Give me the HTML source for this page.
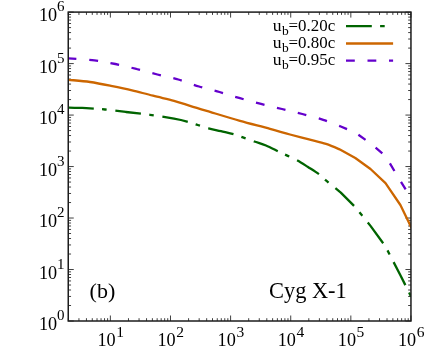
<!DOCTYPE html>
<html><head><meta charset="utf-8"><title>plot</title>
<style>
html,body{margin:0;padding:0;background:#fff;}
body{width:434px;height:347px;overflow:hidden;}
svg{display:block;}
text{font-family:"Liberation Serif",serif;fill:#000;}
</style></head><body>
<svg width="434" height="347" viewBox="0 0 434 347">
<rect x="0" y="0" width="434" height="347" fill="#ffffff"/>
<path d="M68.35 321.00v-2.80M68.35 12.10v2.80M78.94 321.00v-2.80M78.94 12.10v2.80M86.45 321.00v-2.80M86.45 12.10v2.80M92.27 321.00v-2.80M92.27 12.10v2.80M97.03 321.00v-2.80M97.03 12.10v2.80M101.06 321.00v-2.80M101.06 12.10v2.80M104.54 321.00v-2.80M104.54 12.10v2.80M107.62 321.00v-2.80M107.62 12.10v2.80M110.37 321.00v-5.50M110.37 12.10v5.50M128.47 321.00v-2.80M128.47 12.10v2.80M139.05 321.00v-2.80M139.05 12.10v2.80M146.56 321.00v-2.80M146.56 12.10v2.80M152.39 321.00v-2.80M152.39 12.10v2.80M157.15 321.00v-2.80M157.15 12.10v2.80M161.17 321.00v-2.80M161.17 12.10v2.80M164.66 321.00v-2.80M164.66 12.10v2.80M167.74 321.00v-2.80M167.74 12.10v2.80M170.49 321.00v-5.50M170.49 12.10v5.50M188.58 321.00v-2.80M188.58 12.10v2.80M199.17 321.00v-2.80M199.17 12.10v2.80M206.68 321.00v-2.80M206.68 12.10v2.80M212.51 321.00v-2.80M212.51 12.10v2.80M217.27 321.00v-2.80M217.27 12.10v2.80M221.29 321.00v-2.80M221.29 12.10v2.80M224.78 321.00v-2.80M224.78 12.10v2.80M227.85 321.00v-2.80M227.85 12.10v2.80M230.60 321.00v-5.50M230.60 12.10v5.50M248.70 321.00v-2.80M248.70 12.10v2.80M259.28 321.00v-2.80M259.28 12.10v2.80M266.80 321.00v-2.80M266.80 12.10v2.80M272.62 321.00v-2.80M272.62 12.10v2.80M277.38 321.00v-2.80M277.38 12.10v2.80M281.41 321.00v-2.80M281.41 12.10v2.80M284.89 321.00v-2.80M284.89 12.10v2.80M287.97 321.00v-2.80M287.97 12.10v2.80M290.72 321.00v-5.50M290.72 12.10v5.50M308.81 321.00v-2.80M308.81 12.10v2.80M319.40 321.00v-2.80M319.40 12.10v2.80M326.91 321.00v-2.80M326.91 12.10v2.80M332.74 321.00v-2.80M332.74 12.10v2.80M337.50 321.00v-2.80M337.50 12.10v2.80M341.52 321.00v-2.80M341.52 12.10v2.80M345.01 321.00v-2.80M345.01 12.10v2.80M348.08 321.00v-2.80M348.08 12.10v2.80M350.83 321.00v-5.50M350.83 12.10v5.50M368.93 321.00v-2.80M368.93 12.10v2.80M379.52 321.00v-2.80M379.52 12.10v2.80M387.03 321.00v-2.80M387.03 12.10v2.80M392.85 321.00v-2.80M392.85 12.10v2.80M397.61 321.00v-2.80M397.61 12.10v2.80M401.64 321.00v-2.80M401.64 12.10v2.80M405.12 321.00v-2.80M405.12 12.10v2.80M408.20 321.00v-2.80M408.20 12.10v2.80M410.95 321.00v-5.50M410.95 12.10v5.50M68.25 321.00h5.50M410.95 321.00h-5.50M68.25 305.50h2.80M410.95 305.50h-2.80M68.25 296.44h2.80M410.95 296.44h-2.80M68.25 290.00h2.80M410.95 290.00h-2.80M68.25 285.01h2.80M410.95 285.01h-2.80M68.25 280.94h2.80M410.95 280.94h-2.80M68.25 277.49h2.80M410.95 277.49h-2.80M68.25 274.51h2.80M410.95 274.51h-2.80M68.25 271.87h2.80M410.95 271.87h-2.80M68.25 269.52h5.50M410.95 269.52h-5.50M68.25 254.02h2.80M410.95 254.02h-2.80M68.25 244.95h2.80M410.95 244.95h-2.80M68.25 238.52h2.80M410.95 238.52h-2.80M68.25 233.53h2.80M410.95 233.53h-2.80M68.25 229.45h2.80M410.95 229.45h-2.80M68.25 226.01h2.80M410.95 226.01h-2.80M68.25 223.02h2.80M410.95 223.02h-2.80M68.25 220.39h2.80M410.95 220.39h-2.80M68.25 218.03h5.50M410.95 218.03h-5.50M68.25 202.54h2.80M410.95 202.54h-2.80M68.25 193.47h2.80M410.95 193.47h-2.80M68.25 187.04h2.80M410.95 187.04h-2.80M68.25 182.05h2.80M410.95 182.05h-2.80M68.25 177.97h2.80M410.95 177.97h-2.80M68.25 174.52h2.80M410.95 174.52h-2.80M68.25 171.54h2.80M410.95 171.54h-2.80M68.25 168.91h2.80M410.95 168.91h-2.80M68.25 166.55h5.50M410.95 166.55h-5.50M68.25 151.05h2.80M410.95 151.05h-2.80M68.25 141.99h2.80M410.95 141.99h-2.80M68.25 135.55h2.80M410.95 135.55h-2.80M68.25 130.56h2.80M410.95 130.56h-2.80M68.25 126.49h2.80M410.95 126.49h-2.80M68.25 123.04h2.80M410.95 123.04h-2.80M68.25 120.06h2.80M410.95 120.06h-2.80M68.25 117.42h2.80M410.95 117.42h-2.80M68.25 115.07h5.50M410.95 115.07h-5.50M68.25 99.57h2.80M410.95 99.57h-2.80M68.25 90.50h2.80M410.95 90.50h-2.80M68.25 84.07h2.80M410.95 84.07h-2.80M68.25 79.08h2.80M410.95 79.08h-2.80M68.25 75.00h2.80M410.95 75.00h-2.80M68.25 71.56h2.80M410.95 71.56h-2.80M68.25 68.57h2.80M410.95 68.57h-2.80M68.25 65.94h2.80M410.95 65.94h-2.80M68.25 63.58h5.50M410.95 63.58h-5.50M68.25 48.09h2.80M410.95 48.09h-2.80M68.25 39.02h2.80M410.95 39.02h-2.80M68.25 32.59h2.80M410.95 32.59h-2.80M68.25 27.60h2.80M410.95 27.60h-2.80M68.25 23.52h2.80M410.95 23.52h-2.80M68.25 20.07h2.80M410.95 20.07h-2.80M68.25 17.09h2.80M410.95 17.09h-2.80M68.25 14.46h2.80M410.95 14.46h-2.80M68.25 12.10h5.50M410.95 12.10h-5.50" stroke="#000" stroke-width="0.75" fill="none"/>
<clipPath id="c"><rect x="68.25" y="12.1" width="342.7" height="308.9"/></clipPath>
<g clip-path="url(#c)" fill="none" stroke-width="2.3" stroke-linejoin="round">
<path d="M54.0 107.6C55.0 107.6 57.5 107.6 60.0 107.6C62.5 107.6 65.7 107.7 69.0 107.7C72.3 107.8 76.5 107.8 80.0 107.9C83.5 108.0 85.8 108.0 90.0 108.3C94.2 108.6 99.0 108.9 105.0 109.5C111.0 110.1 118.5 111.1 126.0 112.0C133.5 112.9 142.0 113.7 150.0 114.8C158.0 115.9 167.8 117.6 174.0 118.7C180.2 119.8 183.1 120.5 187.0 121.6C190.9 122.6 194.1 123.9 197.7 125.0C201.3 126.1 204.6 127.3 208.5 128.3C212.4 129.3 216.8 130.2 221.0 131.2C225.2 132.2 230.1 133.2 234.0 134.3C237.9 135.4 240.8 136.7 244.2 137.9C247.6 139.1 250.7 140.2 254.3 141.5C257.9 142.8 261.9 143.8 266.0 145.5C270.1 147.2 275.4 150.1 279.0 151.8C282.6 153.5 284.7 154.5 287.8 155.9C290.9 157.3 294.1 158.7 297.5 160.5C300.9 162.3 304.4 164.7 308.0 167.0C311.6 169.3 316.0 172.0 319.0 174.2C322.0 176.4 322.4 177.3 326.0 180.4C329.6 183.5 338.3 190.6 340.8 192.6L355.6 207.5L370.5 225.9L385.5 246.5L400.4 275.2L415.3 305.0" stroke="#006400" stroke-dasharray="25.85 8.3 4.6 8.65" stroke-dashoffset="-14.1"/>
<path d="M54.0 78.8C55.0 78.9 57.6 79.0 60.0 79.2C62.4 79.4 63.5 79.3 68.5 79.8C73.5 80.3 82.9 81.0 90.0 82.0C97.1 83.0 104.0 84.4 111.0 85.8C118.0 87.2 125.0 88.6 132.0 90.3C139.0 92.0 146.0 94.0 153.0 95.7C160.0 97.5 167.8 99.1 174.0 100.8C180.2 102.5 184.0 103.9 190.0 105.8C196.0 107.7 201.7 109.4 210.0 111.9C218.3 114.4 230.0 118.0 240.0 120.8C250.0 123.6 261.7 126.5 270.0 128.8C278.3 131.1 283.7 132.8 290.0 134.5C296.3 136.2 302.0 137.6 308.0 139.2C314.0 140.8 320.6 142.2 326.0 143.9C331.4 145.7 338.0 148.7 340.4 149.7L355.3 158.0L370.5 169.0L385.5 183.2L400.4 205.0L415.3 235.6" stroke="#cc6600"/>
<path d="M54.0 57.7C55.0 57.7 57.6 57.8 60.0 57.9C62.4 58.0 62.8 57.9 68.5 58.3C74.2 58.7 86.7 59.4 94.5 60.4C102.3 61.4 108.4 62.6 115.4 64.0C122.4 65.4 129.4 67.2 136.4 69.0C143.4 70.8 150.4 72.8 157.4 74.5C164.4 76.2 171.4 77.5 178.3 79.5C185.2 81.5 192.1 84.4 199.0 86.5C205.9 88.6 212.7 90.0 219.5 92.0C226.3 94.0 233.1 96.2 240.0 98.2C246.9 100.2 254.0 102.1 261.0 103.9C268.0 105.7 275.1 107.3 282.0 109.0C288.9 110.7 295.4 112.2 302.3 114.0C309.2 115.8 316.8 117.7 323.2 119.8C329.6 121.9 337.9 125.4 340.8 126.5L355.6 132.8L370.5 143.4L385.5 156.1L400.4 181.0L415.3 204.8" stroke="#6400cc" stroke-dasharray="8.8 12.75" stroke-dashoffset="-13.7"/>
</g>
<rect x="68.25" y="12.1" width="342.7" height="308.9" fill="none" stroke="#1c1c1c" stroke-width="1.5"/>
<g fill="none" stroke-width="2.3">
<path d="M346 26.1H393.1" stroke="#006400" stroke-dasharray="25.8 8.3 4.6 8.6"/>
<path d="M346 43.5H393.1" stroke="#cc6600"/>
<path d="M346 60.6H393.1" stroke="#6400cc" stroke-dasharray="8.8 12.7"/>
</g>
<g style="filter:grayscale(1)">
<text x="272.7" y="30.9" font-size="17.6">u</text><text x="281.9" y="35.20" font-size="13.5">b</text><text x="335.2" y="30.9" font-size="16.9" text-anchor="end">=0.20c</text>
<text x="272.7" y="47.85" font-size="17.6">u</text><text x="281.9" y="52.15" font-size="13.5">b</text><text x="335.2" y="47.85" font-size="16.9" text-anchor="end">=0.80c</text>
<text x="272.7" y="64.8" font-size="17.6">u</text><text x="281.9" y="69.10" font-size="13.5">b</text><text x="335.2" y="64.8" font-size="16.9" text-anchor="end">=0.95c</text>
<text x="57.2" y="330.3" font-size="18.2" text-anchor="end">10</text><text x="56.9" y="320.3" font-size="15">0</text>
<text x="57.2" y="278.8" font-size="18.2" text-anchor="end">10</text><text x="56.9" y="268.8" font-size="15">1</text>
<text x="57.2" y="227.3" font-size="18.2" text-anchor="end">10</text><text x="56.9" y="217.3" font-size="15">2</text>
<text x="57.2" y="175.9" font-size="18.2" text-anchor="end">10</text><text x="56.9" y="165.9" font-size="15">3</text>
<text x="57.2" y="124.4" font-size="18.2" text-anchor="end">10</text><text x="56.9" y="114.4" font-size="15">4</text>
<text x="57.2" y="72.9" font-size="18.2" text-anchor="end">10</text><text x="56.9" y="62.9" font-size="15">5</text>
<text x="57.2" y="21.4" font-size="18.2" text-anchor="end">10</text><text x="56.9" y="11.4" font-size="15">6</text>
<text x="115.6" y="346.1" font-size="18.2" text-anchor="end">10</text><text x="116.2" y="336.8" font-size="15.5">1</text>
<text x="175.7" y="346.1" font-size="18.2" text-anchor="end">10</text><text x="176.3" y="336.8" font-size="15.5">2</text>
<text x="235.8" y="346.1" font-size="18.2" text-anchor="end">10</text><text x="236.4" y="336.8" font-size="15.5">3</text>
<text x="295.9" y="346.1" font-size="18.2" text-anchor="end">10</text><text x="296.5" y="336.8" font-size="15.5">4</text>
<text x="356.0" y="346.1" font-size="18.2" text-anchor="end">10</text><text x="356.6" y="336.8" font-size="15.5">5</text>
<text x="416.1" y="346.1" font-size="18.2" text-anchor="end">10</text><text x="416.8" y="336.8" font-size="15.5">6</text>
<text x="89.6" y="297.6" font-size="22">(b)</text>
<text x="269" y="298" font-size="22.4">Cyg X-1</text>
</g>
</svg></body></html>
